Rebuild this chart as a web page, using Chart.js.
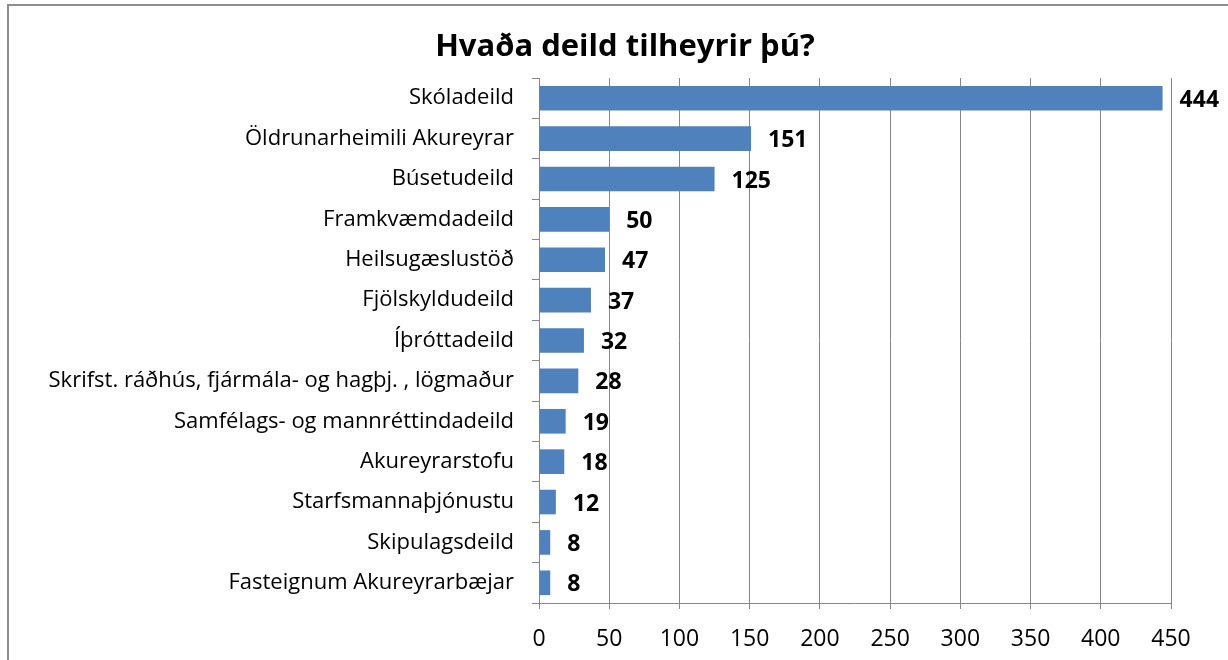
<!DOCTYPE html>
<html>
<head>
<meta charset="utf-8">
<script src="https://cdn.jsdelivr.net/npm/chart.js@4/dist/chart.umd.min.js"></script>
<style>
  body { margin: 0; background: #fff; overflow: hidden; }
  #frame { position: absolute; left: 7px; top: 4px; width: 1400px; height: 800px; border: 2px solid #8e8e8e; }
  #deild { position: absolute; left: 0; top: 0; }
</style>
</head>
<body>
<div id="frame"></div>
<canvas id="deild" width="1228" height="660"></canvas>
<script>
const titill = 'Hvaða deild tilheyrir þú?';
const deildir = [
  'Skóladeild',
  'Öldrunarheimili Akureyrar',
  'Búsetudeild',
  'Framkvæmdadeild',
  'Heilsugæslustöð',
  'Fjölskyldudeild',
  'Íþróttadeild',
  'Skrifst. ráðhús, fjármála- og hagþj. , lögmaður',
  'Samfélags- og mannréttindadeild',
  'Akureyrarstofu',
  'Starfsmannaþjónustu',
  'Skipulagsdeild',
  'Fasteignum Akureyrarbæjar'
];
const fjoldi = [444, 151, 125, 50, 47, 37, 32, 28, 19, 18, 12, 8, 8];
const xMin = 0;
const xMax = 450;
const xStep = 50;

const gridColor = '#878787';
const font = 'Open Sans';

// tölur aftan við súlurnar + titill
const talaPlugin = {
  id: 'tala',
  afterDatasetsDraw(chart) {
    const ctx = chart.ctx;
    const meta = chart.getDatasetMeta(0);
    ctx.save();
    ctx.font = 'bold 23px "' + font + '"';
    ctx.fillStyle = '#000';
    ctx.textAlign = 'left';
    ctx.textBaseline = 'middle';
    meta.data.forEach((bar, i) => {
      ctx.fillText(String(fjoldi[i]), bar.x + 17, bar.y + 2);
    });
    ctx.font = 'bold 31px "' + font + '"';
    ctx.textAlign = 'center';
    ctx.fillText(titill, 625, 47);
    ctx.restore();
  }
};

const configDeild = {
  type: 'bar',
  data: {
    labels: deildir,
    datasets: [{
      data: fjoldi,
      backgroundColor: '#4F81BD',
      borderWidth: 0,
      barPercentage: 0.61,
      categoryPercentage: 1
    }]
  },
  options: {
    indexAxis: 'y',
    responsive: false,
    animation: false,
    layout: { padding: { left: 0, right: 57, top: 78, bottom: 0 } },
    plugins: {
      legend: { display: false },
      tooltip: { enabled: false },
      title: { display: false }
    },
    scales: {
      x: {
        min: xMin,
        max: xMax,
        ticks: {
          stepSize: xStep,
          color: '#000',
          font: { family: font, size: 23 },
          padding: 17,
          maxRotation: 0
        },
        grid: { color: gridColor, tickLength: 6, lineWidth: 1 },
        border: { color: gridColor, width: 1 },
        afterFit(axis) { axis.height = 57; }
      },
      y: {
        ticks: {
          color: '#000',
          font: { family: font, size: 22 },
          padding: 18,
          autoSkip: false
        },
        grid: { drawOnChartArea: false, color: gridColor, tickLength: 7, offset: true },
        border: { color: gridColor, width: 1 },
        afterFit(axis) { axis.width = 539; }
      }
    }
  },
  plugins: [talaPlugin]
};

const myChartDeild = new Chart(document.getElementById('deild'), configDeild);
</script>
</body>
</html>
